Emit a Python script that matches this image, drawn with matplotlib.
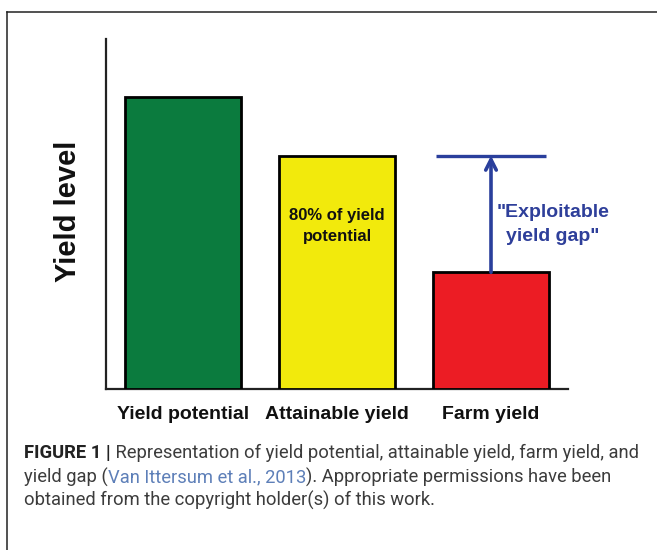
import matplotlib
matplotlib.use("Agg")
import matplotlib.pyplot as plt
from matplotlib.lines import Line2D

# ---- data ----
categories = ["Yield potential", "Attainable yield", "Farm yield"]
yield_levels = [100, 80, 40]
bar_colors = ["#0b7b3e", "#f2ea0c", "#ec1c24"]
gap_low = 40    # farm yield
gap_high = 80   # attainable yield
y_max = 120

inside_label = "80% of yield\npotential"
gap_label = "\"Exploitable\nyield gap\""
y_label = "Yield level"

caption_lines = [
    [("FIGURE 1 |", "bold", "#222222"),
     (" Representation of yield potential, attainable yield, farm yield, and", "normal", "#3c3c3c")],
    [("yield gap (", "normal", "#3c3c3c"),
     ("Van Ittersum et al., 2013", "normal", "#5d7fb8"),
     ("). Appropriate permissions have been", "normal", "#3c3c3c")],
    [("obtained from the copyright holder(s) of this work.", "normal", "#3c3c3c")],
]

W, H = 657, 550
fig = plt.figure(figsize=(W / 100, H / 100), dpi=100)
plt.rcParams["font.family"] = ["Liberation Sans", "DejaVu Sans"]

# frame (top and left edges visible)
fig.add_artist(Line2D([7 / W, 1.0], [1 - 12 / H, 1 - 12 / H], color="#222222", lw=1.1,
                      transform=fig.transFigure))
fig.add_artist(Line2D([7 / W, 7 / W], [1 - 12 / H, 0.0], color="#222222", lw=1.1,
                      transform=fig.transFigure))

# axes
ax = fig.add_axes([106 / W, 1 - 389 / H, (568 - 106) / W, (389 - 39) / H])
x = list(range(len(categories)))
ax.bar(x, yield_levels, width=0.75, color=bar_colors, edgecolor="black", linewidth=2.0, zorder=3)
ax.set_xlim(-0.5, 2.5)
ax.set_ylim(0, y_max)
for s in ["top", "right"]:
    ax.spines[s].set_visible(False)
for s in ["left", "bottom"]:
    ax.spines[s].set_color("#222222")
    ax.spines[s].set_linewidth(1.6)
ax.set_yticks([])
ax.set_xticks(x)
ax.set_xticklabels(categories, fontsize=14, fontweight="bold", color="#111111")
ax.tick_params(axis="x", length=0, pad=12)

# text inside the yellow bar
ax.text(1, 55.9, inside_label, ha="center", va="center", fontsize=12, fontweight="bold",
        color="#111111", linespacing=1.55)

# exploitable yield gap
blue = "#2a3f9c"
ax.hlines(gap_high, 2 - 0.357, 2 + 0.357, color=blue, lw=2.4, zorder=4)
ax.annotate("", xy=(2, gap_high), xytext=(2, gap_low),
            arrowprops=dict(arrowstyle="->,head_length=0.75,head_width=0.38",
                            color=blue, lw=2.6, shrinkA=0, shrinkB=0), zorder=4)
ax.text(2.40, 56.4, gap_label, ha="center", va="center", multialignment="center",
        fontsize=14, fontweight="bold", color="#2e3f9a", linespacing=1.55)

# y label
fig.text(68 / W, 1 - 211 / H, y_label, rotation=90, ha="center", va="center",
         fontsize=21, fontweight="bold", color="#111111")

# caption, chained pieces
fig.canvas.draw()
renderer = fig.canvas.get_renderer()
cap_family = ["Roboto", "Liberation Sans", "DejaVu Sans"]

def measure(pieces, size):
    total = 0
    for txt, wt, col in pieces:
        t = fig.text(0, 0, txt, fontsize=size, fontweight=wt, family=cap_family)
        total += t.get_window_extent(renderer).width
        t.remove()
    return total

base = 12
w1 = measure(caption_lines[0], base)
cap_size = base * (637 - 24) / w1

ys = [453, 477, 500]
for pieces, yc in zip(caption_lines, ys):
    xp = 24
    for txt, wt, col in pieces:
        t = fig.text(xp / W, 1 - yc / H, txt, fontsize=cap_size, fontweight=wt, color=col,
                     ha="left", va="center", family=cap_family)
        xp += t.get_window_extent(renderer).width

fig.savefig("out.png", dpi=100)
